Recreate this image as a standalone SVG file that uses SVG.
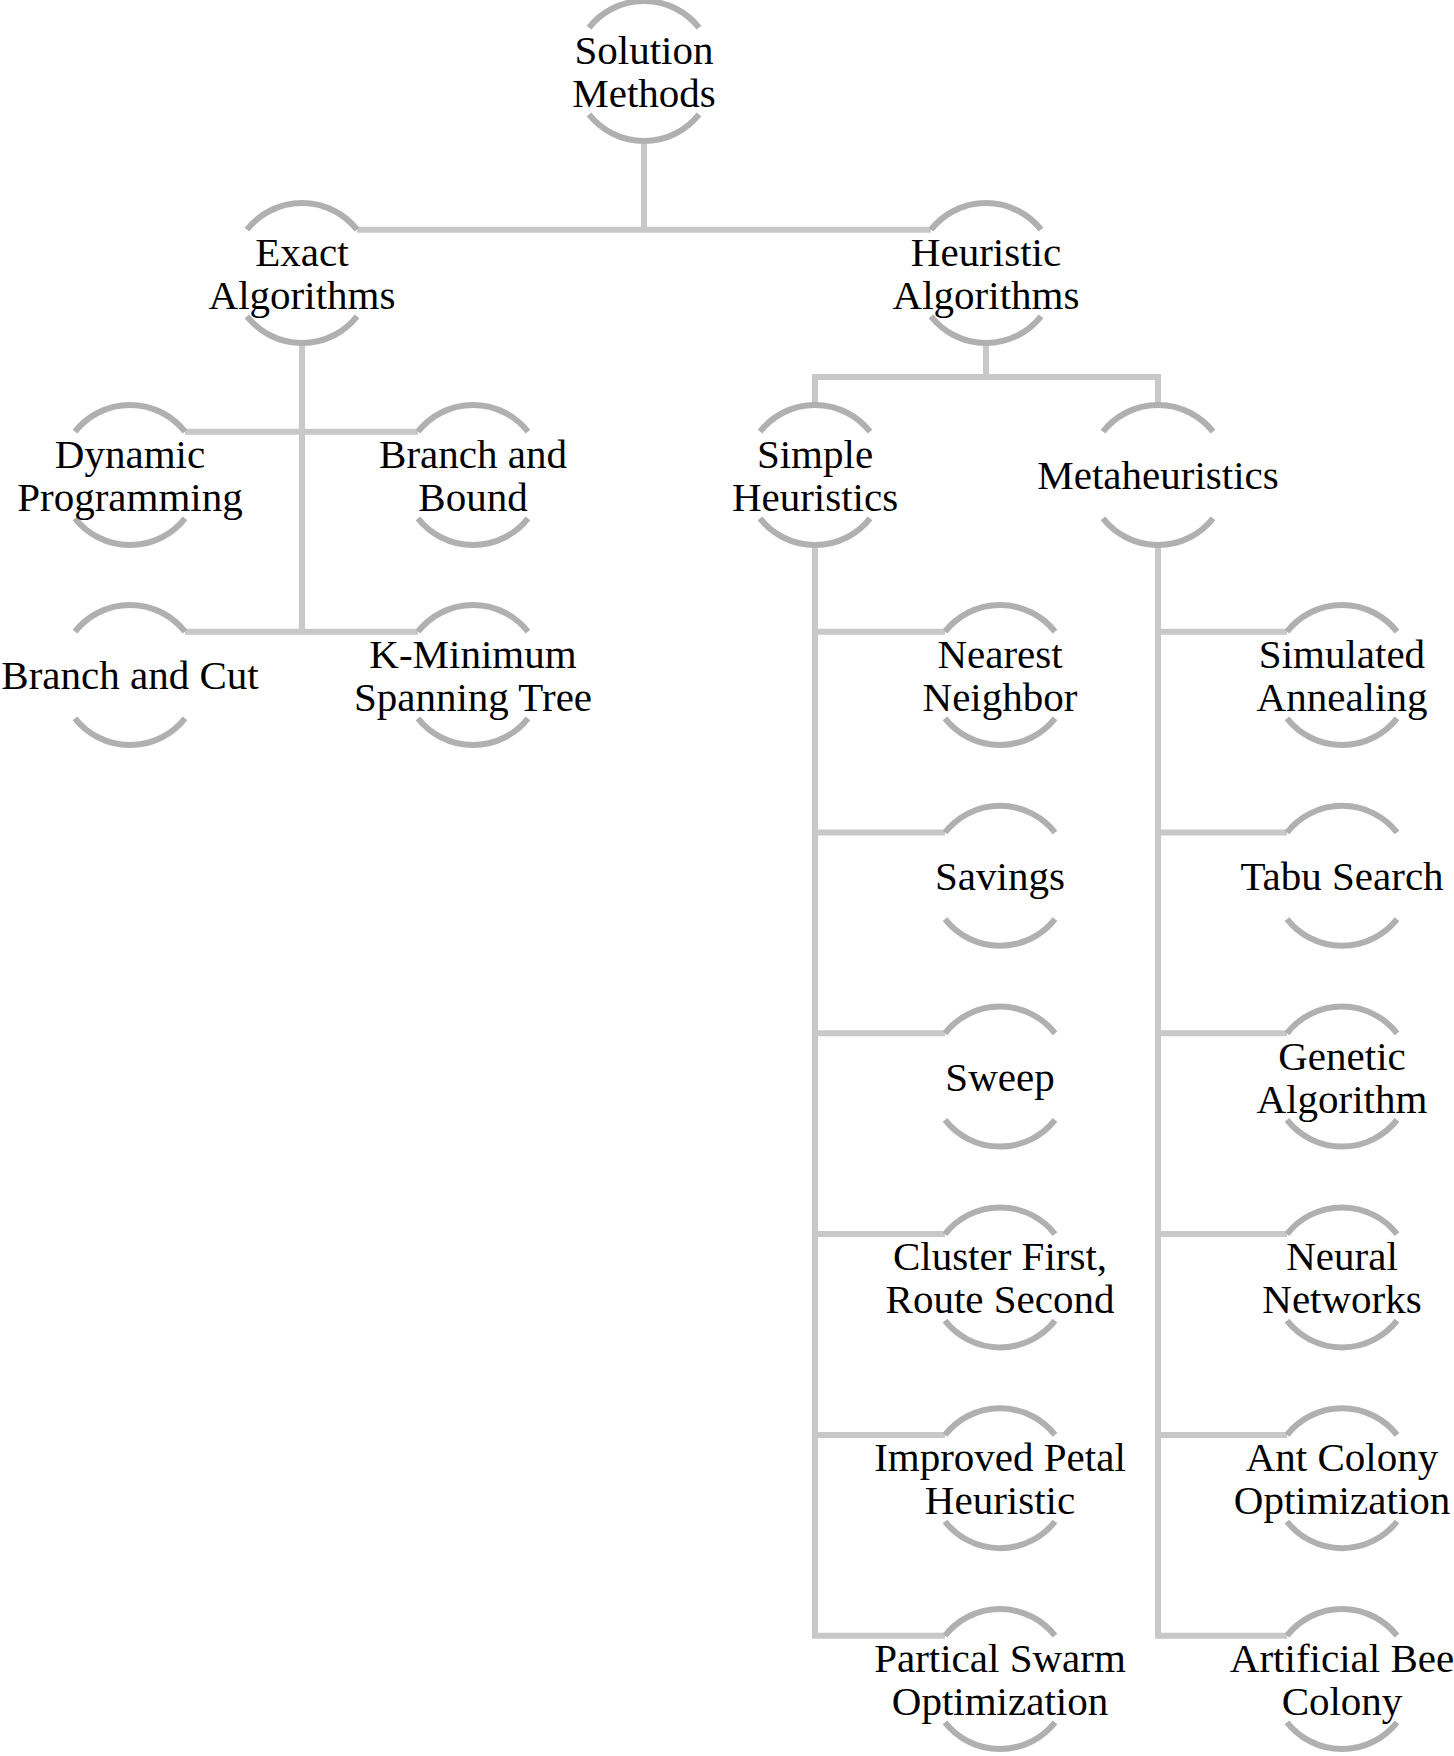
<svg xmlns="http://www.w3.org/2000/svg" xmlns:xlink="http://www.w3.org/1999/xlink" width="1454" height="1756" viewBox="0 0 1454 1756">
<style>
.ring{fill:none;stroke:#b0b0b0;stroke-width:6;stroke-linecap:butt}
.conn{fill:none;stroke:#c8c8c8;stroke-width:6;stroke-linejoin:miter;stroke-linecap:butt}
text{font-family:"Liberation Serif","Times New Roman",serif;font-size:41px;fill:#000;text-anchor:middle}
</style>
<defs>
<path id="ring" d="M-55,-43.3 A70,70 0 0 1 55,-43.3 M-55,43.3 A70,70 0 0 0 55,43.3"/>
</defs>
<rect width="1454" height="1756" fill="#fff"/>
<g id="connectors" class="conn">
<path d="M644,141 V229.7"/>
<path d="M357,229.7 H931"/>
<path d="M302,343 V631.7"/>
<path d="M185,431.7 H418"/>
<path d="M185,631.7 H418"/>
<path d="M986,343 V377"/>
<path d="M815,405 V377 H1158 V405"/>
<path d="M815,545 V1635.7 H945"/>
<path d="M815,631.7 H945"/>
<path d="M815,832.5 H945"/>
<path d="M815,1033.3 H945"/>
<path d="M815,1234.1 H945"/>
<path d="M815,1434.9 H945"/>
<path d="M1158,545 V1635.7 H1287"/>
<path d="M1158,631.7 H1287"/>
<path d="M1158,832.5 H1287"/>
<path d="M1158,1033.3 H1287"/>
<path d="M1158,1234.1 H1287"/>
<path d="M1158,1434.9 H1287"/>
</g>
<g id="solution-methods"><use href="#ring" class="ring" x="644" y="71"/><text x="644" y="64">Solution<tspan x="644" dy="43">Methods</tspan></text></g>
<g id="exact-algorithms"><use href="#ring" class="ring" x="302" y="273"/><text x="302" y="266">Exact<tspan x="302" dy="43">Algorithms</tspan></text></g>
<g id="heuristic-algorithms"><use href="#ring" class="ring" x="986" y="273"/><text x="986" y="266">Heuristic<tspan x="986" dy="43">Algorithms</tspan></text></g>
<g id="dynamic-programming"><use href="#ring" class="ring" x="130" y="475"/><text x="130" y="468">Dynamic<tspan x="130" dy="43">Programming</tspan></text></g>
<g id="branch-and-bound"><use href="#ring" class="ring" x="473" y="475"/><text x="473" y="468">Branch and<tspan x="473" dy="43">Bound</tspan></text></g>
<g id="branch-and-cut"><use href="#ring" class="ring" x="130" y="675"/><text x="130" y="689">Branch and Cut</text></g>
<g id="k-minimum-spanning-tree"><use href="#ring" class="ring" x="473" y="675"/><text x="473" y="668">K-Minimum<tspan x="473" dy="43">Spanning Tree</tspan></text></g>
<g id="simple-heuristics"><use href="#ring" class="ring" x="815" y="475"/><text x="815" y="468">Simple<tspan x="815" dy="43">Heuristics</tspan></text></g>
<g id="metaheuristics"><use href="#ring" class="ring" x="1158" y="475"/><text x="1158" y="489">Metaheuristics</text></g>
<g id="nearest-neighbor"><use href="#ring" class="ring" x="1000" y="675"/><text x="1000" y="668">Nearest<tspan x="1000" dy="43">Neighbor</tspan></text></g>
<g id="savings"><use href="#ring" class="ring" x="1000" y="875.8"/><text x="1000" y="890">Savings</text></g>
<g id="sweep"><use href="#ring" class="ring" x="1000" y="1076.6"/><text x="1000" y="1091">Sweep</text></g>
<g id="cluster-first"><use href="#ring" class="ring" x="1000" y="1277.4"/><text x="1000" y="1270">Cluster First,<tspan x="1000" dy="43">Route Second</tspan></text></g>
<g id="improved-petal"><use href="#ring" class="ring" x="1000" y="1478.2"/><text x="1000" y="1471">Improved Petal<tspan x="1000" dy="43">Heuristic</tspan></text></g>
<g id="partical-swarm"><use href="#ring" class="ring" x="1000" y="1679"/><text x="1000" y="1672">Partical Swarm<tspan x="1000" dy="43">Optimization</tspan></text></g>
<g id="simulated-annealing"><use href="#ring" class="ring" x="1342" y="675"/><text x="1342" y="668">Simulated<tspan x="1342" dy="43">Annealing</tspan></text></g>
<g id="tabu-search"><use href="#ring" class="ring" x="1342" y="875.8"/><text x="1342" y="890">Tabu Search</text></g>
<g id="genetic-algorithm"><use href="#ring" class="ring" x="1342" y="1076.6"/><text x="1342" y="1070">Genetic<tspan x="1342" dy="43">Algorithm</tspan></text></g>
<g id="neural-networks"><use href="#ring" class="ring" x="1342" y="1277.4"/><text x="1342" y="1270">Neural<tspan x="1342" dy="43">Networks</tspan></text></g>
<g id="ant-colony"><use href="#ring" class="ring" x="1342" y="1478.2"/><text x="1342" y="1471">Ant Colony<tspan x="1342" dy="43">Optimization</tspan></text></g>
<g id="artificial-bee-colony"><use href="#ring" class="ring" x="1342" y="1679"/><text x="1342" y="1672">Artificial Bee<tspan x="1342" dy="43">Colony</tspan></text></g>
</svg>
